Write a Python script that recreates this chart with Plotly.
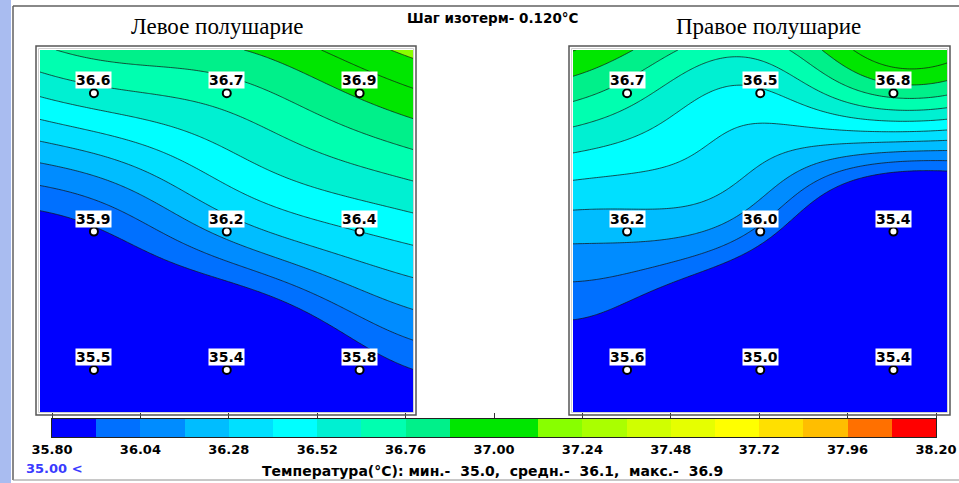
import numpy as np
import plotly.graph_objects as go

# ---------------- data ----------------
LEFT_TOP = [36.6, 36.7, 36.9]
LEFT_MID = [35.9, 36.2, 36.4]
LEFT_BOT = [35.5, 35.4, 35.8]

RIGHT_TOP = [36.7, 36.5, 36.8]
RIGHT_MID = [36.2, 36.0, 35.4]
RIGHT_BOT = [35.6, 35.0, 35.4]

ISO_STEP = 0.12
SCALE_MIN = 35.80
SCALE_MAX = 38.20
TICK_VALUES = [35.80, 36.04, 36.28, 36.52, 36.76, 37.00, 37.24, 37.48, 37.72, 37.96, 38.20]
TICK_LABELS = ["35.80", "36.04", "36.28", "36.52", "36.76", "37.00",
               "37.24", "37.48", "37.72", "37.96", "38.20"]
BIN_COLORS = ["#0000ff", "#0070ff", "#008cff", "#00bdff", "#00e0ff",
              "#00ffff", "#00f0d2", "#00ffb0", "#00f08a", "#00e600",
              "#00e600", "#88ff00", "#aaff00", "#d0ff00", "#e6ff00",
              "#ffff00", "#ffe000", "#ffbe00", "#ff7000", "#ff0000"]

TITLE_LEFT = "Левое полушарие"
TITLE_RIGHT = "Правое полушарие"
STEP_TEXT = "Шаг изотерм- 0.120°C"
BELOW_TEXT = "35.00 <"

W, H = 959, 483


def pxx(x):
    return x / W


def pxy(y):
    return 1 - y / H


n_bins = len(BIN_COLORS)
CS = [[i / n_bins, c] for i, c in enumerate(BIN_COLORS)] + [[1.0, BIN_COLORS[-1]]]

# extent of each map around the 3x3 measuring points (index units)
X_RANGE = [-0.406, 2.402]
Y_RANGE = [-0.313, 2.304]
Y_ASPECT = 138.3 / 133.0


def rbf_surface(grid_vals, X, Y, width=1.0):
    """Gaussian radial-basis surface (with linear trend) through the 3x3 readings."""
    v = np.array(grid_vals, float).ravel()
    cx = np.tile(np.arange(3.0), 3)
    cy = np.repeat(np.arange(3.0), 3) * Y_ASPECT
    n = len(v)

    def phi(r):
        return np.exp(-(r / width) ** 2)

    d = np.hypot(cx[:, None] - cx[None, :], cy[:, None] - cy[None, :])
    P = np.column_stack([np.ones(n), cx, cy])
    A = np.zeros((n + 3, n + 3))
    A[:n, :n] = phi(d)
    A[:n, n:] = P
    A[n:, :n] = P.T
    sol = np.linalg.solve(A, np.concatenate([v, np.zeros(3)]))
    w, a = sol[:n], sol[n:]
    Yp = np.asarray(Y) * Y_ASPECT
    X = np.asarray(X)
    Z = a[0] + a[1] * X + a[2] * Yp
    for i in range(n):
        Z = Z + w[i] * phi(np.hypot(X - cx[i], Yp - cy[i]))
    return Z


left_grid = [LEFT_TOP, LEFT_MID, LEFT_BOT]
right_grid = [RIGHT_TOP, RIGHT_MID, RIGHT_BOT]

gx = np.linspace(X_RANGE[0], X_RANGE[1], 161)
gy = np.linspace(Y_RANGE[0], Y_RANGE[1], 151)
GX, GY = np.meshgrid(gx, gy)

fig = go.Figure()

label_font = dict(family="DejaVu Sans", size=13, color="black", weight="bold")
point_font = dict(family="DejaVu Sans", size=14, color="black", weight="bold")
for grid, xa, ya in [(left_grid, "x", "y"), (right_grid, "x2", "y2")]:
    Z = rbf_surface(grid, GX, GY)
    fig.add_trace(go.Contour(
        x=gx, y=gy, z=Z, xaxis=xa, yaxis=ya,
        autocontour=False,
        contours=dict(start=SCALE_MIN + ISO_STEP, end=SCALE_MAX, size=ISO_STEP,
                      coloring="fill", showlines=True),
        line=dict(color="rgba(20,20,20,0.9)", width=0.8),
        colorscale=CS, showscale=False, hoverinfo="skip"))
    cols, rows = np.meshgrid(np.arange(3), np.arange(3))
    fig.add_trace(go.Scatter(
        x=cols.ravel(), y=rows.ravel(), xaxis=xa, yaxis=ya, mode="markers",
        marker=dict(symbol="circle", size=8, color="white",
                    line=dict(color="black", width=2)),
        hoverinfo="skip", showlegend=False))
    for r in range(3):
        for c in range(3):
            fig.add_annotation(
                x=c, y=r, xref=xa, yref=ya, text=f"{grid[r][c]:.1f}",
                xanchor="center", yanchor="middle",
                showarrow=False, yshift=13, bgcolor="white", borderpad=0,
                font=point_font)

# colour scale bar
bin_mid = [SCALE_MIN + ISO_STEP * (k + 0.5) for k in range(n_bins)]
fig.add_trace(go.Heatmap(
    x=bin_mid, y=[0.5], z=[bin_mid], xaxis="x3", yaxis="y3",
    zmin=bin_mid[0], zmax=bin_mid[0] + ISO_STEP * n_bins,
    colorscale=CS, showscale=False, hoverinfo="skip"))
fig.add_trace(go.Scatter(x=[SCALE_MIN], y=[0.5], xaxis="x4", yaxis="y3",
                         mode="markers", marker=dict(opacity=0),
                         hoverinfo="skip", showlegend=False))

all_vals = np.array(left_grid + right_grid, float)
nb = "\u00a0"
stats_text = (f"Температура(°C): мин.-{nb*2}{all_vals.min():.1f},{nb*2}средн.-{nb*2}"
              f"{all_vals.mean():.1f},{nb*2}макс.-{nb*2}{all_vals.max():.1f}")

fig.update_layout(
    width=W, height=H, margin=dict(l=0, r=0, t=0, b=0, autoexpand=False),
    paper_bgcolor="white", plot_bgcolor="white", showlegend=False,
    xaxis=dict(domain=[pxx(40), pxx(413)], range=X_RANGE, visible=False, anchor="y"),
    yaxis=dict(domain=[pxy(412), pxy(50)], range=[Y_RANGE[1], Y_RANGE[0]], visible=False, anchor="x"),
    xaxis2=dict(domain=[pxx(573), pxx(947)], range=X_RANGE, visible=False, anchor="y2"),
    yaxis2=dict(domain=[pxy(412), pxy(50)], range=[Y_RANGE[1], Y_RANGE[0]], visible=False, anchor="x2"),
    xaxis3=dict(domain=[pxx(52), pxx(936)], range=[SCALE_MIN, SCALE_MAX], anchor="y3",
                tickvals=TICK_VALUES, ticktext=TICK_LABELS, ticks="", showgrid=False,
                zeroline=False, showline=True, mirror=True, linecolor="#222", linewidth=1,
                tickfont=label_font),
    xaxis4=dict(overlaying="x3", side="top", anchor="y3", range=[SCALE_MIN, SCALE_MAX],
                tickvals=TICK_VALUES, showticklabels=False, ticks="outside", ticklen=5,
                tickcolor="#333", tickwidth=1, showgrid=False, zeroline=False, showline=False),
    yaxis3=dict(domain=[pxy(437), pxy(419)], range=[0, 1], anchor="x3", showticklabels=False,
                ticks="", showgrid=False, zeroline=False, showline=True, mirror=True,
                linecolor="#222", linewidth=1),
)

shapes = [
    dict(type="rect", xref="paper", yref="paper", x0=0, x1=pxx(11), y0=0, y1=1,
         fillcolor="#a9bcf0", line=dict(width=0), layer="below"),
    dict(type="line", xref="paper", yref="paper", x0=pxx(13), x1=pxx(13), y0=pxy(480), y1=pxy(6),
         line=dict(color="#606060", width=1.5)),
    dict(type="line", xref="paper", yref="paper", x0=pxx(13), x1=1, y0=pxy(6), y1=pxy(6),
         line=dict(color="#606060", width=1.5)),
    dict(type="line", xref="paper", yref="paper", x0=pxx(13), x1=1, y0=pxy(480), y1=pxy(480),
         line=dict(color="#909090", width=1)),
]
for x0, x1 in [(36, 416), (569, 950)]:
    shapes.append(dict(type="rect", xref="paper", yref="paper", x0=pxx(x0), x1=pxx(x1),
                       y0=pxy(415), y1=pxy(46), line=dict(color="#555555", width=1.5)))
    shapes.append(dict(type="rect", xref="paper", yref="paper", x0=pxx(x0 + 2.5), x1=pxx(x1 - 2.5),
                       y0=pxy(412.5), y1=pxy(48.5), line=dict(color="#d0d0d0", width=1)))
fig.update_layout(shapes=shapes)


def paper_text(x, y, text, font, xanchor="center"):
    fig.add_annotation(x=pxx(x), y=pxy(y), xref="paper", yref="paper", text=text,
                       xanchor=xanchor, yanchor="middle", showarrow=False, font=font)


paper_text(217.5, 27, TITLE_LEFT, dict(family="Liberation Serif", size=23, color="black"))
paper_text(768.5, 27, TITLE_RIGHT, dict(family="Liberation Serif", size=23, color="black"))
paper_text(493, 18, STEP_TEXT, dict(family="DejaVu Sans", size=13.5, color="black", weight="bold"))
paper_text(24, 468, BELOW_TEXT, dict(family="DejaVu Sans", size=13, color="#3a3aff", weight="bold"),
           xanchor="left")
paper_text(492, 471, stats_text, dict(family="DejaVu Sans", size=14, color="black", weight="bold"))

fig.write_html("out.html")
